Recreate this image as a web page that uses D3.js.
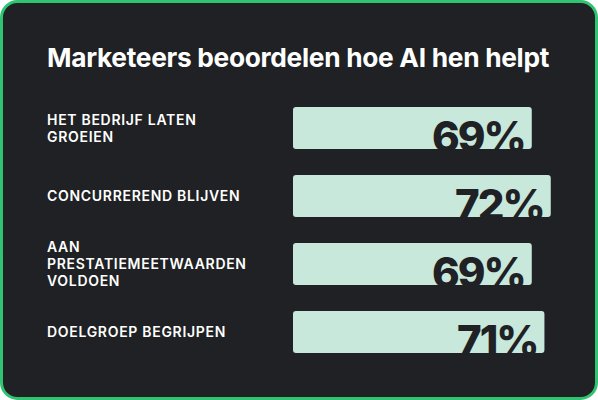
<!DOCTYPE html>
<html><head><meta charset="utf-8">
<script src="https://cdn.jsdelivr.net/npm/d3@7"></script>
<style>body{margin:0;background:#fff}</style>
</head><body><div id="chart"></div>
<script>
// Data
const categories = [["HET BEDRIJF LATEN", "GROEIEN"], ["CONCURREREND BLIJVEN"], ["AAN", "PRESTATIEMEETWAARDEN", "VOLDOEN"], ["DOELGROEP BEGRIJPEN"]];
const values = [69, 72, 69, 71];
const title = "Marketeers beoordelen hoe AI hen helpt";

const W = 598, H = 400, bg = "#1f2124";
const svg = d3.select("#chart").append("svg").attr("width", W).attr("height", H);

svg.append("rect").attr("x", 1.5).attr("y", 1.5).attr("width", W - 3).attr("height", H - 3)
    .attr("rx", 16).attr("fill", bg).attr("stroke", "#2fc46f").attr("stroke-width", 3);

svg.append("text").attr("x", 47).attr("y", 67).attr("fill", "#fff")
    .attr("font-family", "Inter, sans-serif").attr("font-weight", 700).attr("font-size", 26.3)
    .attr("letter-spacing", -0.3).text(title);

const x = d3.scaleLinear().domain([0, 100]).range([95, 728]);
const y = d3.scaleBand().domain(d3.range(values.length)).range([107, 353]).paddingInner(0.382);
const x0 = 293;

const g = svg.append("g").selectAll("g").data(values).join("g");

g.append("rect").attr("x", x0).attr("y", (d, i) => y(i))
    .attr("width", d => x(d) - x0).attr("height", y.bandwidth()).attr("rx", 3).attr("fill", "#c8e8dc");

g.append("text").attr("x", d => x(d) - 7).attr("y", (d, i) => y(i) + 45)
    .attr("text-anchor", "end").attr("fill", bg)
    .attr("font-family", "Inter, sans-serif").attr("font-weight", 800).attr("font-size", 42)
    .attr("letter-spacing", -2).text(d => d + "%");

g.append("text").attr("fill", "#fff").attr("font-family", "Inter, sans-serif")
    .attr("font-weight", 600).attr("font-size", 14).attr("letter-spacing", 0.7)
    .each(function (d, i) {
        const lines = categories[i];
        const cy = y(i) + 21 - (lines.length - 1) * 8.5;
        d3.select(this).selectAll("tspan").data(lines).join("tspan")
            .attr("x", 47).attr("y", (l, j) => cy + j * 17 + 5).text(l => l);
    });
</script></body></html>
